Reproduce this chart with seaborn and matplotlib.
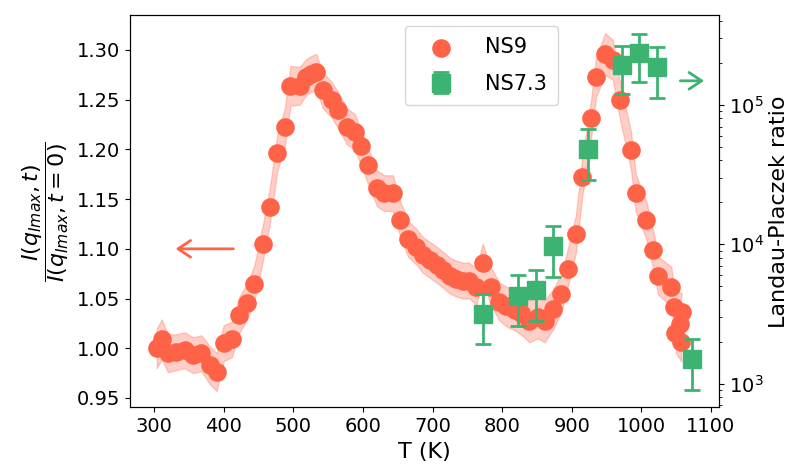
import numpy as np
import matplotlib
matplotlib.use('Agg')
import matplotlib.pyplot as plt
import seaborn as sns

# ---- data ----
ns9_T = [304, 311, 320, 332, 344, 356, 368, 380, 390, 400, 412, 422, 433, 444,
         456, 466, 477, 488, 496, 509, 519, 526, 533, 542, 555, 564, 577, 588,
         597, 607, 620, 631, 643, 654, 665, 677, 686, 696, 706, 715, 725, 734,
         744, 753, 763, 772, 784, 796, 806, 818, 827, 839, 851, 861, 873, 885,
         894, 906, 915, 928, 935, 948, 959, 969, 985, 992, 1007, 1017, 1024,
         1043, 1047, 1058, 1055, 1049, 1057]
ns9_ratio = [1.000, 1.009, 0.995, 0.996, 0.998, 0.993, 0.995, 0.983, 0.976,
             1.005, 1.009, 1.033, 1.046, 1.065, 1.105, 1.142, 1.196, 1.223,
             1.264, 1.264, 1.273, 1.276, 1.278, 1.260, 1.250, 1.240, 1.223,
             1.218, 1.203, 1.184, 1.161, 1.156, 1.156, 1.129, 1.110, 1.102,
             1.094, 1.089, 1.084, 1.079, 1.073, 1.070, 1.068, 1.068, 1.062,
             1.086, 1.062, 1.047, 1.042, 1.038, 1.035, 1.027, 1.031, 1.027,
             1.039, 1.055, 1.080, 1.115, 1.172, 1.232, 1.273, 1.296, 1.290,
             1.250, 1.199, 1.156, 1.129, 1.099, 1.073, 1.062, 1.041, 1.036,
             1.024, 1.015, 1.006]
ns9_err = [0.020, 0.020, 0.019, 0.018, 0.018, 0.018, 0.018, 0.019, 0.019,
           0.018, 0.018, 0.018, 0.018, 0.018, 0.018, 0.018, 0.018, 0.019,
           0.020, 0.019, 0.018, 0.018, 0.018, 0.018, 0.018, 0.018, 0.018,
           0.018, 0.018, 0.018, 0.018, 0.018, 0.018, 0.018, 0.018, 0.018,
           0.018, 0.018, 0.018, 0.018, 0.018, 0.018, 0.018, 0.018, 0.018,
           0.019, 0.019, 0.019, 0.020, 0.020, 0.021, 0.021, 0.021, 0.021,
           0.020, 0.019, 0.019, 0.019, 0.019, 0.019, 0.020, 0.021, 0.020,
           0.019, 0.019, 0.019, 0.019, 0.019, 0.019, 0.020, 0.019, 0.019,
           0.019, 0.019, 0.019]

ns73_T = [772, 823, 848, 873, 923, 972, 997, 1023, 1073]
ns73_lp = [3175, 4275, 4670, 9640, 48100, 193500, 235000, 186300, 1503]
ns73_err = [1250, 1700, 1850, 3780, 19150, 73500, 90000, 73600, 600]

xticks = [300, 400, 500, 600, 700, 800, 900, 1000, 1100]
yticks = [0.95, 1.00, 1.05, 1.10, 1.15, 1.20, 1.25, 1.30]

# ---- style ----
sns.set_style('ticks', {'axes.edgecolor': 'black', 'xtick.color': 'black',
                        'ytick.color': 'black', 'text.color': 'black',
                        'axes.labelcolor': 'black'})
plt.rcParams['font.family'] = ['DejaVu Sans']
plt.rcParams['mathtext.fontset'] = 'dejavusans'

red = 'tomato'
green = 'mediumseagreen'

fig = plt.figure(figsize=(7.96, 4.68), dpi=100)
ax = fig.add_axes([130 / 796, (468 - 407.3) / 468, 589 / 796, 392 / 468])

T = np.array(ns9_T)
r = np.array(ns9_ratio)
e = np.array(ns9_err)
ax.fill_between(T, r - e, r + e, color=red, alpha=0.3, zorder=1)
sns.scatterplot(x=ns9_T, y=ns9_ratio, ax=ax, color=red, s=180, linewidth=0,
                zorder=3, label='NS9', legend=False)

ax.set_xlim(265.5, 1111.5)
ax.set_ylim(0.9406, 1.3349)
ax.set_xticks(xticks)
ax.set_yticks(yticks)
ax.set_yticklabels([f'{v:.2f}' for v in yticks])
ax.tick_params(labelsize=14)
ax.set_xlabel('T (K)', fontsize=16)
ax.set_ylabel(r'$\dfrac{I(q_{Imax},t)}{I(q_{Imax},t=0)}$', fontsize=16)

ax.annotate('', xy=(327, 1.10), xytext=(418, 1.10),
            arrowprops=dict(arrowstyle='->,head_length=0.45,head_width=0.3',
                            color=red, lw=2, mutation_scale=20))
ax.annotate('', xy=(1094, 1.269), xytext=(1052, 1.269),
            arrowprops=dict(arrowstyle='->,head_length=0.45,head_width=0.3',
                            color=green, lw=2, mutation_scale=20))

ax2 = ax.twinx()
ax2.set_yscale('log')
ax2.errorbar(ns73_T, ns73_lp, yerr=ns73_err, fmt='s', color=green,
             markersize=13, capsize=6, elinewidth=2, capthick=2,
             label='NS7.3', zorder=4)
ax2.set_ylim(675, 4.4e5)
ax2.set_xlim(265.5, 1111.5)
ax2.tick_params(labelsize=14)
ax2.set_ylabel('Landau-Placzek ratio', fontsize=16)

h1, l1 = ax.get_legend_handles_labels()
h2, l2 = ax2.get_legend_handles_labels()
ax2.legend(h1 + h2, l1 + l2, loc='upper center', bbox_to_anchor=(0.597, 1.0),
           fontsize=15, scatterpoints=1, frameon=True, handlelength=2.4,
           handletextpad=0.9, labelspacing=0.8, borderpad=0.55)

fig.savefig('out.png', dpi=100)
